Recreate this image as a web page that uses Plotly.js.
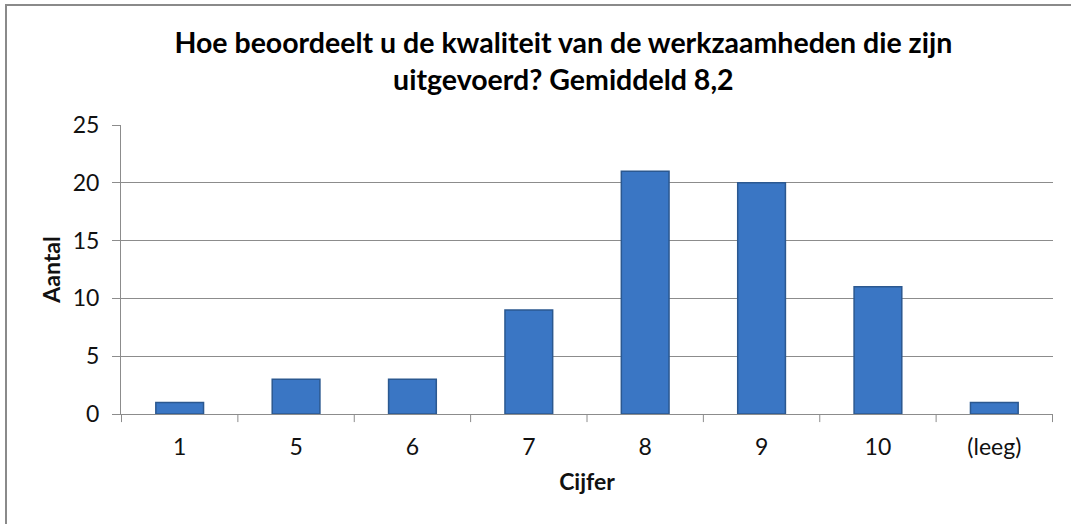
<!DOCTYPE html>
<html>
<head>
<meta charset="utf-8">
<script src="https://cdn.plot.ly/plotly-3.0.1.min.js"></script>
<style>
html,body{margin:0;padding:0;background:#fff;}
#wrap{position:relative;width:1071px;height:524px;overflow:hidden;}
#chart{width:1071px;height:524px;}
#frame{position:absolute;left:5px;top:4px;width:1100px;height:560px;border:2px solid #8a8a8a;pointer-events:none;}
</style>
</head>
<body>
<div id="wrap"><div id="chart"></div><div id="frame"></div></div>
<script>
const categories = ["1", "5", "6", "7", "8", "9", "10", "(leeg)"];
const counts = [1, 3, 3, 9, 21, 20, 11, 1];
const yTicks = [0, 5, 10, 15, 20, 25];

const font = "Lato, 'Open Sans', sans-serif";

const trace = {
  type: "bar",
  x: categories,
  y: counts,
  marker: {
    color: "#3a76c4",
    line: {color: "#2b5890", width: 1.5}
  },
  hoverinfo: "x+y"
};

const layout = {
  width: 1071,
  height: 524,
  margin: {l: 121, r: 18, t: 125, b: 110},
  paper_bgcolor: "#ffffff",
  plot_bgcolor: "#ffffff",
  bargap: 0.59,
  showlegend: false,
  title: {
    text: "<b>Hoe beoordeelt u de kwaliteit van de werkzaamheden die zijn<br>uitgevoerd? Gemiddeld 8,2</b>",
    font: {family: font, size: 28.5, color: "#000"},
    x: 0.526, xref: "container", xanchor: "center",
    y: 0.899, yref: "container", yanchor: "top"
  },
  xaxis: {
    type: "category",
    showline: true, linecolor: "#8c8c8c", linewidth: 1,
    showgrid: false,
    ticks: "outside", ticklen: 12, tickcolor: "rgba(0,0,0,0)",
    tickfont: {family: font, size: 23, color: "#111"},
    title: {text: "<b>Cijfer</b>", font: {family: font, size: 23, color: "#111"}, standoff: 15}
  },
  yaxis: {
    range: [0, 25],
    tickvals: yTicks,
    showline: true, linecolor: "#8c8c8c", linewidth: 1,
    showgrid: true, gridcolor: "#8c8c8c", gridwidth: 1,
    zeroline: false,
    ticks: "outside", ticklen: 8, tickcolor: "#8c8c8c",
    ticklabelstandoff: 8,
    tickfont: {family: font, size: 23, color: "#111"},
    title: {text: "<b>Aantal</b>", font: {family: font, size: 23, color: "#111"}, standoff: 5}
  },
  shapes: categories.concat(["end"]).map((c, i) => ({
    type: "line", xref: "x", yref: "paper",
    x0: i - 0.5, x1: i - 0.5, y0: 0, y1: -0.028,
    line: {color: "#8c8c8c", width: 1}
  }))
};

Plotly.newPlot("chart", [trace], layout, {displayModeBar: false, staticPlot: true});
</script>
</body>
</html>
